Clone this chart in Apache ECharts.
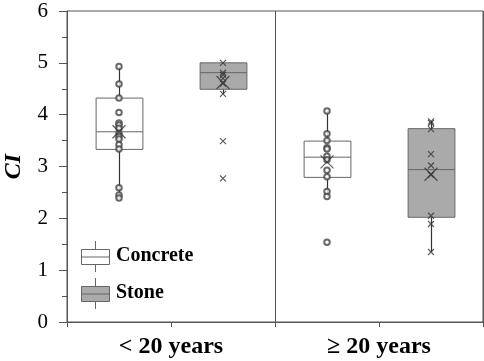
<!DOCTYPE html>
<html>
<head>
<meta charset="utf-8">
<script src="https://cdn.jsdelivr.net/npm/echarts@6/dist/echarts.min.js"></script>
<style>
  html, body { margin: 0; padding: 0; background: #fff; }
  #chart { width: 484px; height: 361px; }
</style>
</head>
<body>
<div id="chart"></div>
<script>
// age groups and the four box slots (concrete, stone per group)
const groups = ['< 20 years', '\u2265 20 years'];
const slots = ['c1', 's1', 'c2', 's2'];

// box stats: [min, Q1, median, Q3, max]
const concreteBoxes = [[2.39, 3.33, 3.67, 4.32, 4.93], [2.42, 2.79, 3.18, 3.49, 4.07]];
const stoneBoxes = [[4.40, 4.49, 4.81, 5.00, 5.00], [1.35, 2.02, 2.94, 3.73, 3.87]];

// individual values
const concreteYoung = [4.93, 4.59, 4.32, 4.04, 3.84, 3.80, 3.74, 3.64, 3.58, 3.53, 3.42, 3.34, 2.59, 2.45, 2.39];
const stoneYoung = [5.00, 4.81, 4.77, 4.70, 4.60, 4.40, 3.49, 2.77];
const concreteOld = [4.07, 3.63, 3.50, 3.36, 3.34, 3.20, 3.13, 2.93, 2.80, 2.52, 2.42, 1.54];
const stoneOld = [3.87, 3.84, 3.72, 3.24, 3.02, 2.84, 2.05, 1.89, 1.35];

// means (big X)
const concreteMeans = [3.67, 3.09];
const stoneMeans = [4.62, 2.85];

const yTicks = [0, 1, 2, 3, 4, 5, 6];

const stroke = '#666';
const fills = ['#fff', '#aaa'];   // concrete, stone
const ptColor = '#333';
const serif = '"Liberation Serif", "Times New Roman", serif';
const crossPath = 'path://M0,0L10,10M10,0L0,10';

let myChart = echarts.init(document.getElementById('chart'));

// [slot, min, q1, med, q3, max, material]
let boxData = [
    [0].concat(concreteBoxes[0], [0]),
    [1].concat(stoneBoxes[0], [1]),
    [2].concat(concreteBoxes[1], [0]),
    [3].concat(stoneBoxes[1], [1])
];

let circlePts = [];
concreteYoung.forEach(v => circlePts.push([0, v]));
concreteOld.forEach(v => circlePts.push([2, v]));
let crossPts = [];
stoneYoung.forEach(v => crossPts.push([1, v]));
stoneOld.forEach(v => crossPts.push([3, v]));
let meanPts = [[0, concreteMeans[0]], [1, stoneMeans[0]], [2, concreteMeans[1]], [3, stoneMeans[1]]];

// box without whisker caps
function renderBox(params, api) {
    let x = api.value(0);
    let pMin = api.coord([x, api.value(1)]);
    let pQ1 = api.coord([x, api.value(2)]);
    let pMed = api.coord([x, api.value(3)]);
    let pQ3 = api.coord([x, api.value(4)]);
    let pMax = api.coord([x, api.value(5)]);
    let half = api.size([1, 0])[0] * 0.225;
    let cx = Math.round(pMed[0]) + 0.5;
    return {
        type: 'group',
        children: [
            { type: 'line', shape: { x1: cx, y1: pMax[1], x2: cx, y2: pMin[1] },
              style: { stroke: '#333', lineWidth: 1.2, fill: null } },
            { type: 'rect', shape: { x: cx - half, y: pQ3[1], width: half * 2, height: pQ1[1] - pQ3[1] },
              style: { fill: fills[api.value(6)], stroke: stroke, lineWidth: 1 } },
            { type: 'line', shape: { x1: cx - half, y1: pMed[1], x2: cx + half, y2: pMed[1] },
              style: { stroke: stroke, lineWidth: 1, fill: null } }
        ]
    };
}

// legend drawn by hand as mini boxplots
function legendItem(top, fill, label) {
    return [
        { type: 'rect', shape: { x: 95, y: top - 8, width: 1, height: 31 }, style: { fill: stroke } },
        { type: 'rect', shape: { x: 81.5, y: top + 0.5, width: 28, height: 15 }, style: { fill: fill, stroke: stroke, lineWidth: 1 } },
        { type: 'line', shape: { x1: 81.5, y1: top + 8, x2: 109.5, y2: top + 8 }, style: { stroke: stroke, lineWidth: 1 } },
        { type: 'text', left: 116, top: top - 3, style: { text: label, font: 'bold 20px ' + serif, fill: '#000' } }
    ];
}

let option = {
    backgroundColor: '#fff',
    animation: false,
    grid: {
        left: 67,
        right: 1,
        top: 11,
        bottom: 39,
        outerBoundsMode: 'none',
        show: true,
        borderColor: '#555',
        borderWidth: 1,
        backgroundColor: 'transparent'
    },
    xAxis: [{
        type: 'category',
        data: slots,
        boundaryGap: true,
        axisLine: { show: true, lineStyle: { color: '#555', width: 1 } },
        axisTick: { show: true, length: 5, inside: false, lineStyle: { color: '#555' } },
        axisLabel: { show: false },
        splitLine: { show: false }
    }, {
        type: 'category',
        data: groups,
        position: 'bottom',
        boundaryGap: true,
        axisLine: { show: false },
        axisTick: { show: false },
        axisLabel: { margin: 13, fontFamily: serif, fontWeight: 'bold', fontSize: 24, color: '#000' },
        splitLine: { show: true, lineStyle: { color: '#555', width: 1 } }
    }],
    yAxis: {
        type: 'value',
        min: yTicks[0],
        max: yTicks[yTicks.length - 1],
        interval: 1,
        name: 'CI',
        nameLocation: 'middle',
        nameGap: 41,
        nameRotate: 90,
        nameTextStyle: { fontFamily: serif, fontWeight: 'bold', fontStyle: 'italic', fontSize: 24, color: '#000' },
        axisLine: { show: true, lineStyle: { color: '#555' } },
        axisTick: { show: true, length: 8, inside: false, lineStyle: { color: '#555' } },
        minorTick: { show: true, splitNumber: 2, length: 5, lineStyle: { color: '#555' } },
        axisLabel: { margin: 19, fontFamily: serif, fontSize: 21, color: '#000' },
        splitLine: { show: false }
    },
    series: [{
        type: 'custom',
        xAxisIndex: 0,
        renderItem: renderBox,
        encode: { x: 0, y: [1, 2, 3, 4, 5] },
        data: boxData,
        z: 2
    }, {
        type: 'scatter',
        xAxisIndex: 0,
        symbol: 'emptyCircle',
        symbolSize: 5.5,
        itemStyle: { color: '#444', borderColor: '#444', borderWidth: 0.8 },
        data: circlePts,
        z: 3
    }, {
        type: 'scatter',
        xAxisIndex: 0,
        symbol: crossPath,
        symbolSize: 6,
        itemStyle: { color: 'none', borderColor: ptColor, borderWidth: 1.2 },
        data: crossPts,
        z: 3
    }, {
        type: 'scatter',
        xAxisIndex: 0,
        symbol: crossPath,
        symbolSize: 13,
        itemStyle: { color: 'none', borderColor: ptColor, borderWidth: 1.2 },
        data: meanPts,
        z: 4
    }],
    graphic: [].concat(legendItem(249, fills[0], 'Concrete'), legendItem(286, fills[1], 'Stone'))
};

myChart.setOption(option);
</script>
</body>
</html>
